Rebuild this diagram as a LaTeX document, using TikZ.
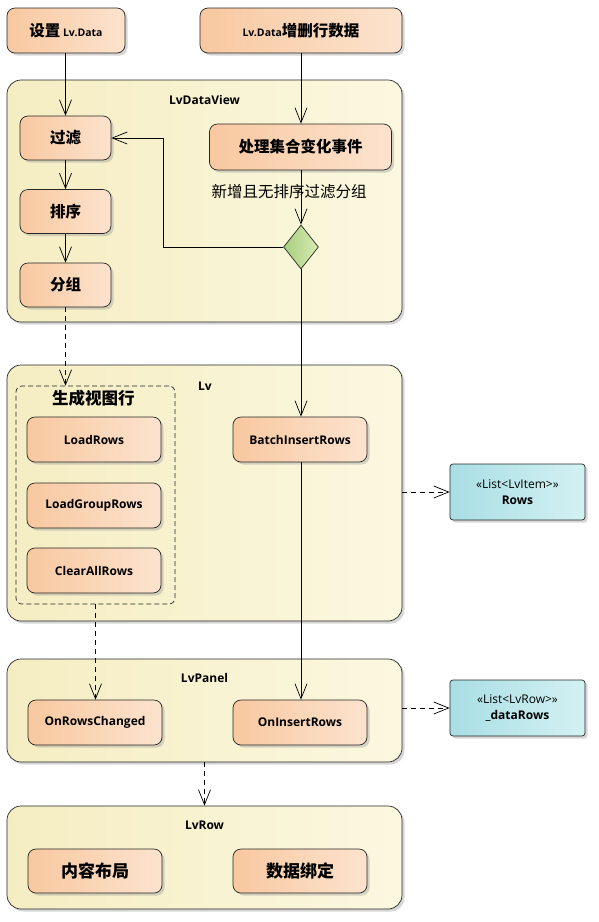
\documentclass[tikz,border=0pt]{standalone}
\usepackage{fontspec}
\setmainfont{Open Sans}
\newfontfamily\cjk{Noto Sans CJK SC}
\usetikzlibrary{arrows.meta,shapes.geometric,shadows}
\definecolor{orL}{HTML}{F8C8A0}
\definecolor{orR}{HTML}{FCE3CE}
\definecolor{yeL}{HTML}{F5EDC2}
\definecolor{yeR}{HTML}{FBF8E0}
\definecolor{cyL}{HTML}{A8DEE4}
\definecolor{cyR}{HTML}{D4F1F3}
\definecolor{grL}{HTML}{A6CE7E}
\definecolor{grR}{HTML}{D8ECB2}
\tikzset{
  shd/.style={drop shadow={shadow xshift=2.5pt,shadow yshift=-2.5pt,fill=black!40,opacity=0.4}},
  box/.style={draw=black!85, line width=0.7pt, rounded corners=8pt, left color=orL, right color=orR, shd, inner sep=0pt, align=center},
  cbox/.style={draw=black!85, line width=0.7pt, rounded corners=3pt, left color=cyL, right color=cyR, shd, inner sep=0pt, align=center, font=\fontsize{12}{16}\selectfont},
  cont/.style={draw=black!85, line width=0.7pt, rounded corners=14pt, left color=yeL, right color=yeR, shd, inner sep=0pt, minimum width=395pt},
  cn/.style={font=\cjk\bfseries\fontsize{15.5}{18}\selectfont},
  en/.style={font=\bfseries\fontsize{12}{14}\selectfont},
  ttl/.style={font=\bfseries\fontsize{12}{14}\selectfont},
  arr/.style={line width=0.7pt, -{Straight Barb[length=15pt,width=12pt,line width=0.7pt]}},
  darr/.style={arr, dash pattern=on 5pt off 4pt},
}
\begin{document}
\begin{tikzpicture}[x=1pt,y=-1pt]
\useasboundingbox (0,0) rectangle (599,922);
% top boxes
\node[box, minimum width=118pt, minimum height=45pt, cn] (set) at (66,30.5) {设置\,{\rmfamily\bfseries\fontsize{10.5}{12}\selectfont Lv.Data}};
\node[box, minimum width=202pt, minimum height=45pt, cn] (data) at (301,30.5) {{\rmfamily\bfseries\fontsize{10.5}{12}\selectfont Lv.Data}增删行数据};
% LvDataView
\node[cont, minimum height=242pt] (dv) at (204.5,201) {};
\node[ttl] (dvt) at (204.5,100) {LvDataView};
\node[box, minimum width=91pt, minimum height=44pt, cn] (filter) at (65.5,138) {过滤};
\node[box, minimum width=91pt, minimum height=44pt, cn] (sort) at (65.5,211.5) {排序};
\node[box, minimum width=91pt, minimum height=44pt, cn] (grp) at (65.5,285) {分组};
\node[box, minimum width=182pt, minimum height=46pt, cn] (proc) at (300.5,147) {处理集合变化事件};
\node[font=\cjk\fontsize{15.5}{18}\selectfont] (cond) at (289,192) {新增且无排序过滤分组};
\node[diamond, draw=black!85, line width=0.7pt, left color=grL, right color=grR, minimum width=35pt, minimum height=44pt, inner sep=0pt] (dia) at (301,247) {};
% Lv
\node[cont, minimum height=256pt] (lv) at (204.5,493) {};
\node[ttl] (lvt) at (205,386) {Lv};
\node[draw=black!85, line width=0.7pt, dash pattern=on 5pt off 3pt, rounded corners=6pt, minimum width=159pt, minimum height=218pt] (gen) at (95.5,495) {};
\node[font=\cjk\bfseries\fontsize{16.5}{19}\selectfont] (gent) at (93.5,398.5) {生成视图行};
\node[box, minimum width=134pt, minimum height=45pt, en] (load) at (94,439.5) {LoadRows};
\node[box, minimum width=134pt, minimum height=45pt, en] (loadg) at (94,505.5) {LoadGroupRows};
\node[box, minimum width=134pt, minimum height=45pt, en] (clear) at (94,570.5) {ClearAllRows};
\node[box, minimum width=134pt, minimum height=45pt, en] (batch) at (300,439.5) {BatchInsertRows};
\node[cbox, minimum width=135pt, minimum height=56pt] (rows) at (517.5,492) {«List<LvItem>»\\\bfseries Rows};
% LvPanel
\node[cont, minimum height=103pt] (panel) at (204.5,710.5) {};
\node[ttl] (panelt) at (204.5,678) {LvPanel};
\node[box, minimum width=134pt, minimum height=45pt, en] (orc) at (95,722.5) {OnRowsChanged};
\node[box, minimum width=134pt, minimum height=45pt, en] (oir) at (300,722.5) {OnInsertRows};
\node[cbox, minimum width=135pt, minimum height=56pt] (drows) at (517.5,708) {«List<LvRow>»\\\bfseries \_dataRows};
% LvRow
\node[cont, minimum height=103pt] (lvrow) at (204.5,857.5) {};
\node[ttl] (lvrowt) at (204.5,825) {LvRow};
\node[box, minimum width=134pt, minimum height=44pt, cn, font=\cjk\bfseries\fontsize{17}{20}\selectfont] (layout) at (95,871) {内容布局};
\node[box, minimum width=134pt, minimum height=44pt, cn, font=\cjk\bfseries\fontsize{17}{20}\selectfont] (bind) at (300,871) {数据绑定};
% connectors
\draw[arr] (set.south -| filter.north) -- (filter.north);
\draw[arr] (data.south) -- (data.south |- proc.north);
\draw[arr] (filter) -- (sort);
\draw[arr] (sort) -- (grp);
\draw[arr] (proc.south -| dia.north) -- (dia.north);
\coordinate (bend) at (163,247);
\draw[arr] (dia.west) -- (bend) |- (filter.east);
\draw[arr] (dia.south) -- (dia.south |- batch.north);
\draw[arr] (dia.south |- batch.south) -- (dia.south |- oir.north);
\draw[darr] (grp.south) -- (grp.south |- gen.north);
\draw[darr] (gen.south) -- (gen.south |- orc.north);
\draw[darr] (lv.east |- rows.west) -- (rows.west);
\draw[darr] (panel.east |- drows.west) -- (drows.west);
\draw[darr] (panel.south) -- (lvrow.north);
\end{tikzpicture}
\end{document}
